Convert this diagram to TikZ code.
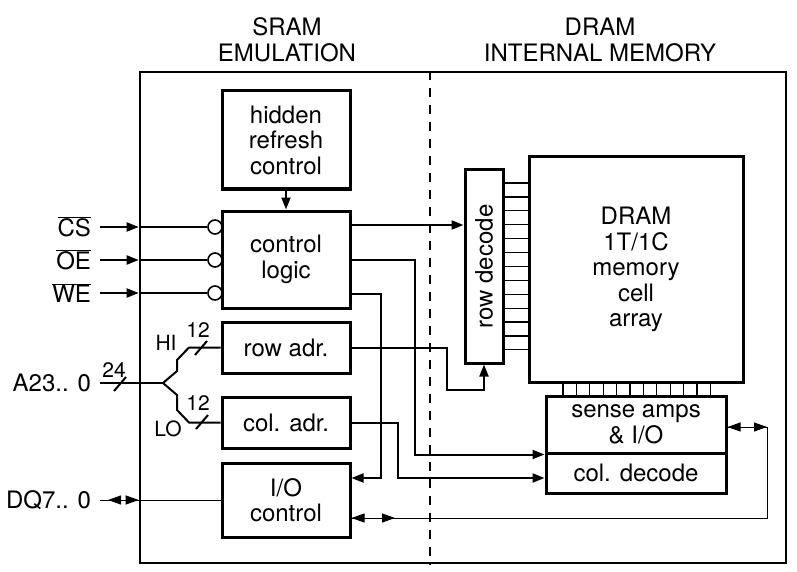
\documentclass[tikz,border=0pt]{standalone}
\usepackage{fontspec}
\setmainfont{TeX Gyre Heros}
\usetikzlibrary{arrows.meta}
\tikzset{
	big/.style={font=\fontsize{24}{25.5}\selectfont},
	small/.style={font=\fontsize{21}{22}\selectfont, inner sep=0pt},
	blk/.style={draw, line width=3pt, big, align=center, inner sep=0pt},
	lbl/.style={big, anchor=east, inner sep=0pt, outer xsep=9pt},
	wire/.style={line width=2pt},
	thinwire/.style={line width=1pt},
	tip/.style={-{Triangle[length=12pt,width=9pt]}},
	dtip/.style={{Triangle[length=13pt,width=9pt]}-{Triangle[length=13pt,width=9pt]}},
	bub/.style={circle, draw, line width=1.6pt, fill=white, minimum size=14pt, inner sep=0pt}
}
\begin{document}
\begin{tikzpicture}[x=1pt,y=-1pt]
			\useasboundingbox (0,0) rectangle (797,572);
			%frame
			\node[draw, line width=2.6pt, minimum width=646pt, minimum height=491pt, inner sep=0pt] (frame) at (463,317.5) {};
			\draw[line width=2pt, dash pattern=on 9pt off 8pt] (frame.north -| 430,0) -- (frame.south -| 430,0);
			\node[big, align=center] (sram) at (287,40) {SRAM\\EMULATION};
			\node[big, align=center] (dram) at (600,40) {DRAM\\INTERNAL MEMORY};
			%sram side
			\node[blk, minimum width=128pt, minimum height=98pt] (hrc) at (286,140) {hidden\\refresh\\control};
			\node[blk, minimum width=128pt, minimum height=97pt] (ctl) at (286,259.5) {control\\logic};
			\node[blk, minimum width=128pt, minimum height=51pt] (rowadr) at (286,347.5) {row adr.};
			\node[blk, minimum width=128pt, minimum height=51pt] (coladr) at (286,422.5) {col. adr.};
			\node[blk, minimum width=128pt, minimum height=74pt] (ioc) at (286,500) {I/O\\control};
			\node[bub] (b1) at (215,227) {};
			\node[bub] (b2) at (215,260) {};
			\node[bub] (b3) at (215,293) {};
			%dram side
			\node[blk, minimum width=38pt, minimum height=193pt] (rowdec) at (484,266.5) {};
			\node[big, rotate=90] (rdtxt) at (rowdec.center) {row decode};
			\node[blk, minimum width=214pt, minimum height=225pt] (array) at (636,269.5) {DRAM\\1T/1C\\memory\\cell\\array};
			\node[blk, minimum width=180pt, minimum height=57pt] (sense) at (636,424.5) {sense amps\\\& I/O};
			\node[blk, minimum width=180pt, minimum height=40pt] (coldec) at (636,473) {col. decode};
			\foreach \i [evaluate=\i as \yy using 183+13.9*\i] in {0,...,12}
				\draw[line width=1.2pt] (rowdec.east |- 0,\yy) -- (array.west |- 0,\yy);
			\foreach \i [evaluate=\i as \xx using 563+13.4*\i] in {0,...,11}
				\draw[line width=1.2pt] (array.south -| \xx,0) -- (sense.north -| \xx,0);
			%inputs
			\node[lbl] (cs) at (100,227) {$\overline{\mbox{CS}}$};
			\node[lbl] (oe) at (100,260) {$\overline{\mbox{OE}}$};
			\node[lbl] (we) at (100,293) {$\overline{\mbox{WE}}$};
			\foreach \s/\b in {cs/b1,oe/b2,we/b3}{
				\draw[wire, tip] (\s.east) -- (\s.east -| frame.west);
				\draw[wire] (\s.east -| frame.west) -- (\b.west);
			}
			%address bus
			\node[lbl] (addr) at (100,383) {A23.. 0};
			\coordinate (split) at (163,383);
			\draw[wire] (addr.east) -- (split);
			\draw[wire] (split) -- (177,371) -- (177,360) -- (189,347.5) -- (rowadr.west);
			\draw[wire] (split) -- (177,395) -- (177,410) -- (189,422.5) -- (coladr.west);
			\draw[wire] (114,391) -- (126,377);
			\draw[wire] (195,355) -- (207,341);
			\draw[wire] (196,429) -- (208,415);
			\node[small] (n24) at (114,370) {24};
			\node[small] (nhi) at (198,330) {12};
			\node[small] (hi) at (166,343) {HI};
			\node[small] (nlo) at (198,403) {12};
			\node[small] (lo) at (168,429) {LO};
			%data
			\node[lbl] (dq) at (100,500) {DQ7.. 0};
			\draw[thinwire] (dq.east) -- (ioc.west);
			\draw[thinwire, dtip] ([xshift=8pt]dq.east) -- (dq.east -| frame.west);
			%connections
			\draw[wire, tip] (hrc.south) -- (ctl.north);
			\draw[wire, tip] (ctl.east |- 0,225) -- (rowdec.west |- 0,225);
			\draw[wire, tip] (ctl.east |- 0,260) -- (415,260) |- (sense.south west);
			\draw[wire, tip] (ctl.east |- 0,294) -- (381,294) |- (ioc.east |- 0,478);
			\draw[wire, tip] (rowadr.east) -| (447,390) -| (rowdec.south);
			\draw[wire, tip] (coladr.east) -| (398,478) -- (coldec.west |- 0,478);
			\draw[thinwire] (ioc.east |- 0,518) -| (767,427) -- (sense.east |- 0,427);
			\draw[thinwire, dtip] (ioc.east |- 0,518) -- (395,518);
			\draw[thinwire, dtip] (sense.east |- 0,427) -- (767,427);
\end{tikzpicture}
\end{document}
